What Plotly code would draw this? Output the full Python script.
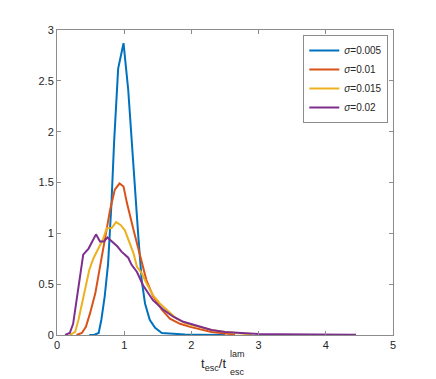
"""Escape-time distributions for several sigma values (MATLAB-style line plot)."""
import plotly.graph_objects as go

COLORS = ["#0072BD", "#D95319", "#EDB120", "#7E2F8E"]
LABELS = ["<i>σ</i>=0.005", "<i>σ</i>=0.01", "<i>σ</i>=0.015", "<i>σ</i>=0.02"]

# sigma = 0.005
x_s005 = [0.48, 0.55, 0.62, 0.66, 0.71, 0.76, 0.81, 0.85, 0.91, 0.99, 1.06, 1.10,
          1.14, 1.21, 1.26, 1.31, 1.38, 1.46, 1.56, 1.72, 1.90, 2.10, 2.30, 2.50]
y_s005 = [0.0, 0.0, 0.02, 0.15, 0.38, 0.70, 1.29, 1.90, 2.62, 2.87, 2.41, 2.00,
          1.62, 0.97, 0.54, 0.31, 0.15, 0.07, 0.02, 0.01, 0.005, 0.002, 0.001, 0.0]

# sigma = 0.01
x_s010 = [0.29, 0.37, 0.43, 0.49, 0.57, 0.64, 0.71, 0.79, 0.86, 0.93, 0.99, 1.04,
          1.14, 1.24, 1.33, 1.43, 1.56, 1.68, 1.83, 1.98, 2.12, 2.30, 2.50, 2.65]
y_s010 = [0.0, 0.02, 0.08, 0.21, 0.41, 0.67, 0.97, 1.23, 1.43, 1.49, 1.46, 1.30,
          1.03, 0.77, 0.54, 0.38, 0.25, 0.16, 0.11, 0.08, 0.06, 0.03, 0.015, 0.005]

# sigma = 0.015
x_s015 = [0.19, 0.27, 0.32, 0.37, 0.42, 0.48, 0.54, 0.62, 0.69, 0.74, 0.81, 0.88,
          0.95, 1.01, 1.07, 1.14, 1.19, 1.26, 1.33, 1.43, 1.53, 1.66, 1.78, 1.93,
          2.12, 2.30, 2.50, 2.70, 2.90]
y_s015 = [0.0, 0.03, 0.15, 0.31, 0.47, 0.64, 0.75, 0.85, 0.95, 1.05, 1.05, 1.11,
          1.08, 1.03, 0.93, 0.80, 0.67, 0.61, 0.51, 0.39, 0.31, 0.23, 0.16, 0.11,
          0.08, 0.05, 0.03, 0.015, 0.005]

# sigma = 0.02
x_s020 = [0.12, 0.19, 0.24, 0.29, 0.34, 0.39, 0.47, 0.53, 0.58, 0.64, 0.70, 0.75,
          0.82, 0.90, 0.96, 1.02, 1.06, 1.11, 1.19, 1.28, 1.43, 1.58, 1.73, 1.88,
          2.03, 2.12, 2.30, 2.50, 2.70, 3.00, 3.30, 3.60, 4.00, 4.45]
y_s020 = [0.0, 0.02, 0.11, 0.34, 0.61, 0.79, 0.85, 0.93, 0.99, 0.92, 0.92, 0.96,
          0.92, 0.87, 0.82, 0.78, 0.76, 0.69, 0.62, 0.49, 0.34, 0.25, 0.18, 0.13,
          0.10, 0.08, 0.05, 0.03, 0.02, 0.01, 0.008, 0.005, 0.004, 0.003]

X_TICKS = [0, 1, 2, 3, 4, 5]
Y_TICKS = [0, 0.5, 1, 1.5, 2, 2.5, 3]

FONT = "Liberation Sans, Arial, sans-serif"
AXIS_LINE = "#8c8c8c"
TEXT = "#262626"

fig = go.Figure()
series = [(x_s005, y_s005), (x_s010, y_s010), (x_s015, y_s015), (x_s020, y_s020)]
for (xs, ys), color, label in zip(series, COLORS, LABELS):
    fig.add_trace(go.Scatter(x=xs, y=ys, mode="lines", name=label,
                             line={"color": color, "width": 2}))

axis_common = dict(
    showline=True, linecolor=AXIS_LINE, linewidth=1, mirror="ticks",
    ticks="inside", ticklen=4, tickcolor=AXIS_LINE, tickwidth=1,
    showgrid=False, zeroline=False,
    tickfont={"family": FONT, "size": 11, "color": TEXT},
)

# page body has an 8px margin, so the figure is sized to fit the window
fig.update_layout(
    width=428, height=371,
    margin={"l": 49, "r": 43, "t": 22, "b": 44},
    paper_bgcolor="white", plot_bgcolor="white",
    xaxis=dict(range=[0, 5], tickvals=X_TICKS, **axis_common),
    yaxis=dict(range=[0, 3], tickvals=Y_TICKS, **axis_common),
    legend=dict(
        x=0.733, y=0.984, xanchor="left", yanchor="top",
        bgcolor="white", bordercolor=AXIS_LINE, borderwidth=1,
        font={"family": FONT, "size": 10, "color": TEXT},
        itemwidth=30, tracegroupgap=0,
    ),
    font={"family": FONT, "color": TEXT},
)

# x-axis label with stacked sub/superscript on the second t
fig.add_annotation(text="t<sub>esc</sub>/t", xref="paper", yref="paper",
                   x=0.509, y=-0.098, xanchor="right", yanchor="middle",
                   showarrow=False, font={"family": FONT, "size": 13, "color": TEXT})
fig.add_annotation(text="lam", xref="paper", yref="paper",
                   x=0.509, y=-0.062, xanchor="left", yanchor="middle",
                   showarrow=False, font={"family": FONT, "size": 9, "color": TEXT})
fig.add_annotation(text="esc", xref="paper", yref="paper",
                   x=0.509, y=-0.121, xanchor="left", yanchor="middle",
                   showarrow=False, font={"family": FONT, "size": 9, "color": TEXT})

fig.write_html("out.html")
